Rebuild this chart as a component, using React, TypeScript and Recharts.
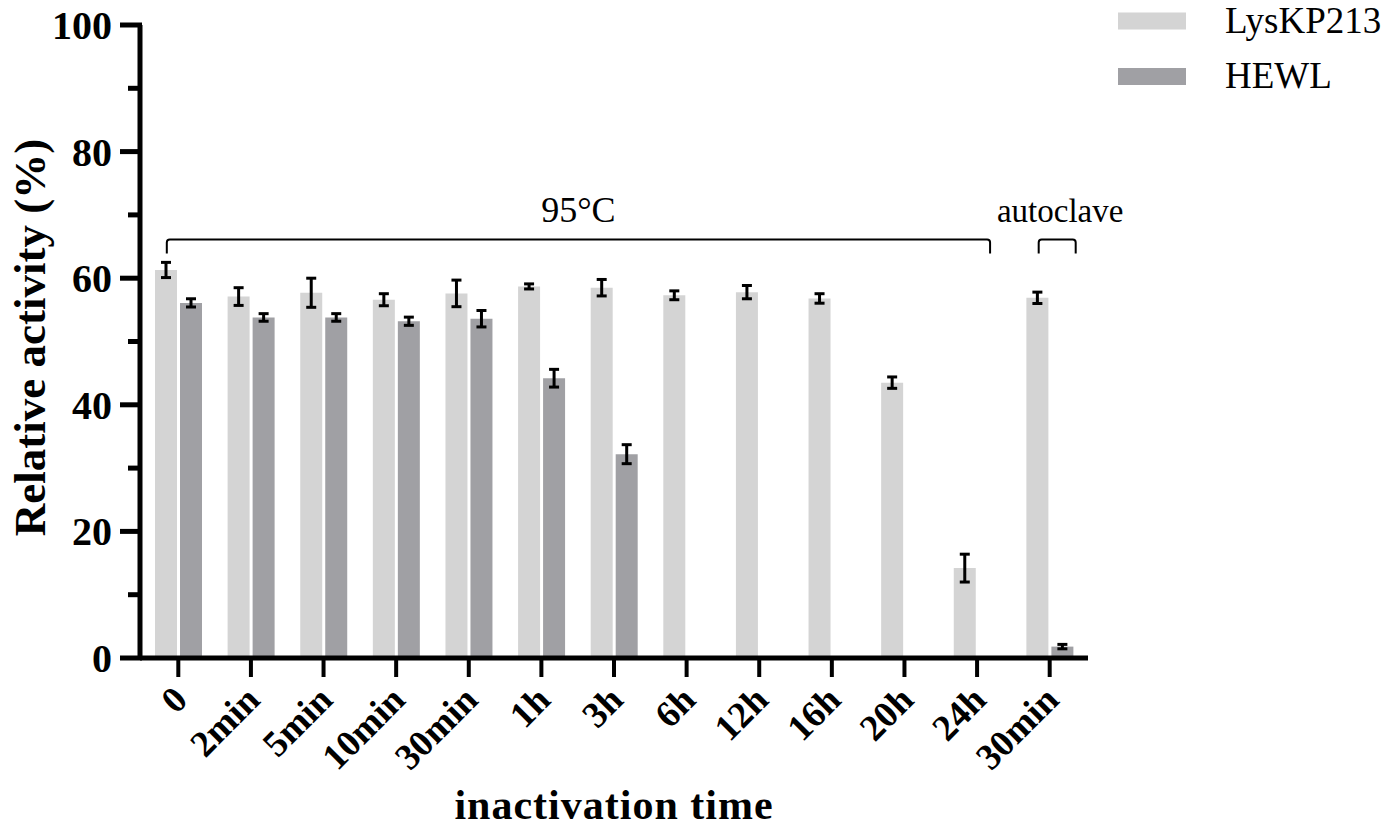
import React from 'react';
import { BarChart, Bar, XAxis, YAxis, ErrorBar, ReferenceLine, Customized } from 'recharts';

const categories = ['0', '2min', '5min', '10min', '30min', '1h', '3h', '6h', '12h', '16h', '20h', '24h', '30min'];
const lysValues = [61.3, 57.1, 57.7, 56.6, 57.6, 58.7, 58.5, 57.3, 57.8, 56.8, 43.5, 14.2, 56.9];
const lysErrors = [1.2, 1.4, 2.3, 0.95, 2.1, 0.4, 1.3, 0.7, 1.05, 0.75, 0.9, 2.2, 0.9];
const hewlValues: (number | null)[] = [56.1, 53.8, 53.8, 53.2, 53.6, 44.2, 32.2, null, null, null, null, null, 1.8];
const hewlErrors: (number | null)[] = [0.65, 0.6, 0.6, 0.65, 1.3, 1.4, 1.5, null, null, null, null, null, 0.35];
const yTicks = [0, 10, 20, 30, 40, 50, 60, 70, 80, 90, 100];
const seriesNames = ['LysKP213', 'HEWL'];
const seriesColors = ['#d4d4d4', '#a0a0a4'];
const bracketLabels = ['95°C', 'autoclave'];
const bracketFrom = [0, 12];
const bracketTo = [11, 12];
const bracketLevel = 66.1;

const data = categories.map((label, i) => ({
  id: String(i),
  label,
  lys: lysValues[i],
  lysErr: lysErrors[i],
  hewl: hewlValues[i],
  hewlErr: hewlErrors[i],
}));

const FONT = '"Liberation Serif", "Times New Roman", Times, serif';

const XTick = (props: any) => {
  const { x, y, payload } = props;
  const label = categories[Number(payload.value)];
  const ax = x + 11;
  const ay = y + 23;
  return (
    <text
      x={ax}
      y={ay}
      textAnchor="end"
      transform={`rotate(-45 ${ax} ${ay})`}
      fontFamily={FONT}
      fontWeight="bold"
      fontSize={37}
      fill="#000"
    >
      {label}
    </text>
  );
};

const YTick = (props: any) => {
  const { x, y, payload } = props;
  const v = payload.value;
  const major = v % 20 === 0;
  return (
    <g>
      <line x1={major ? x + 8 : x + 16} x2={x + 30} y1={y} y2={y} stroke="#000" strokeWidth={5} />
      {major && (
        <text x={x} y={y} dy="0.35em" textAnchor="end" fontFamily={FONT} fontWeight="bold" fontSize={40} fill="#000">
          {v}
        </text>
      )}
    </g>
  );
};

const bracketStyle = [
  { left: -11.5, right: 13, fontSize: 36 },
  { left: -11, right: 26, fontSize: 33 },
];

const makeBracketShape = (idx: number) => (props: any) => {
  const { x1, y1, x2 } = props;
  const st = bracketStyle[idx];
  const l = x1 + st.left;
  const r = x2 + st.right;
  const y = y1;
  const drop = 14;
  const rc = 3;
  const d = `M ${l} ${y + drop} L ${l} ${y + rc} Q ${l} ${y} ${l + rc} ${y} L ${r - rc} ${y} Q ${r} ${y} ${r} ${y + rc} L ${r} ${y + drop}`;
  return (
    <g>
      <path d={d} fill="none" stroke="#000" strokeWidth={2} />
      <text x={(l + r) / 2 + (idx === 1 ? 3 : 0)} y={y - 18} textAnchor="middle" fontFamily={FONT} fontSize={st.fontSize} fill="#000">
        {bracketLabels[idx]}
      </text>
    </g>
  );
};

const LegendBlock = () => (
  <g>
    {seriesNames.map((name, i) => (
      <g key={name}>
        <rect x={1118} y={12.5 + i * 55.5} width={68} height={17} fill={seriesColors[i]} />
        <text x={1225} y={32.5 + i * 55.5} fontFamily={FONT} fontSize={37} fill="#000">
          {name}
        </text>
      </g>
    ))}
  </g>
);

const YTitle = (props: any) => {
  const vb = props.viewBox || {};
  const cx = (vb.x || 0) + 45;
  const cy = (vb.y || 0) + (vb.height || 0) / 2 - 4;
  return (
    <text
      x={cx}
      y={cy}
      textAnchor="middle"
      transform={`rotate(-90 ${cx} ${cy})`}
      fontFamily={FONT}
      fontWeight="bold"
      fontSize={45}
      fill="#000"
    >
      Relative activity (%)
    </text>
  );
};

const XTitle = (props: any) => {
  const vb = props.viewBox || {};
  const cx = (vb.x || 0) + (vb.width || 0) / 2;
  const cy = (vb.y || 0) + 161;
  return (
    <text x={cx} y={cy} textAnchor="middle" fontFamily={FONT} fontWeight="bold" fontSize={42} letterSpacing={1} fill="#000">
      inactivation time
    </text>
  );
};

export default function App() {
  return (
    <div style={{ position: 'absolute', left: 0, top: 0, width: 1390, height: 827, background: '#fff' }}>
      <BarChart
        width={1390}
        height={827}
        data={data}
        margin={{ top: 25, right: 302, bottom: 0, left: 0 }}
        barGap={3}
      >
        <XAxis
          dataKey="id"
          type="category"
          height={169}
          padding={{ left: 2, right: 2 }}
          axisLine={{ stroke: '#000', strokeWidth: 5 }}
          tickLine={{ stroke: '#000', strokeWidth: 4 }}
          tickSize={19}
          tickMargin={2}
          interval={0}
          tick={<XTick />}
          label={<XTitle />}
        />
        <YAxis
          type="number"
          domain={[0, 100]}
          ticks={yTicks}
          interval={0}
          width={140}
          axisLine={{ stroke: '#000', strokeWidth: 5 }}
          tickLine={false}
          tickSize={20}
          tickMargin={8}
          tick={<YTick />}
          label={<YTitle />}
        />
        <Bar dataKey="lys" name={seriesNames[0]} fill={seriesColors[0]} barSize={22} isAnimationActive={false}>
          <ErrorBar dataKey="lysErr" width={5} stroke="#000" strokeWidth={3} isAnimationActive={false} />
        </Bar>
        <Bar dataKey="hewl" name={seriesNames[1]} fill={seriesColors[1]} barSize={22} isAnimationActive={false}>
          <ErrorBar dataKey="hewlErr" width={5} stroke="#000" strokeWidth={3} isAnimationActive={false} />
        </Bar>
        {bracketLabels.map((lbl, i) => (
          <ReferenceLine
            key={lbl}
            segment={[
              { x: String(bracketFrom[i]), y: bracketLevel },
              { x: String(bracketTo[i]), y: bracketLevel },
            ]}
            shape={makeBracketShape(i)}
            ifOverflow="visible"
          />
        ))}
        <Customized component={<LegendBlock />} />
      </BarChart>
    </div>
  );
}
